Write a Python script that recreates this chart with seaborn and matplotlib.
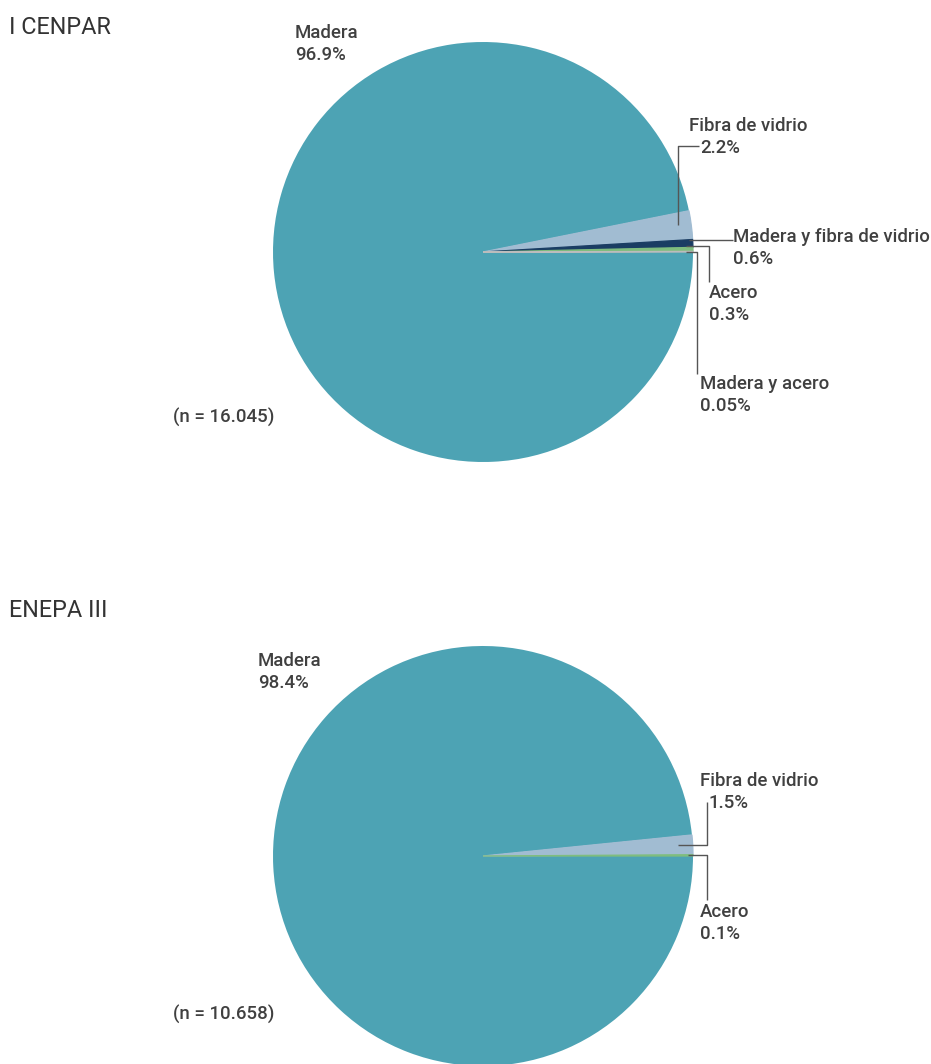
import numpy as np
import matplotlib
matplotlib.use("Agg")
import matplotlib.pyplot as plt
import seaborn as sns

# Material de las embarcaciones
cenpar_labels = ["Madera", "Fibra de vidrio", "Madera y fibra de vidrio", "Acero", "Madera y acero"]
cenpar_values = [96.9, 2.2, 0.6, 0.3, 0.05]
cenpar_pct = ["96.9%", "2.2%", "0.6%", "0.3%", "0.05%"]
cenpar_n = "(n = 16.045)"

enepa_labels = ["Madera", "Fibra de vidrio", "Acero"]
enepa_values = [98.4, 1.5, 0.1]
enepa_pct = ["98.4%", "1.5%", "0.1%"]
enepa_n = "(n = 10.658)"

colors = {
    "Madera": "#4da3b4",
    "Fibra de vidrio": "#a1bcd2",
    "Madera y fibra de vidrio": "#1a3d63",
    "Acero": "#7fbd7e",
    "Madera y acero": "#bcbcbc",
}

sns.set_theme(style="white")
plt.rcParams["font.family"] = ["Roboto", "DejaVu Sans"]

W, H = 931, 1064
fig = plt.figure(figsize=(W / 100, H / 100), dpi=100)
ax = fig.add_axes([0, 0, 1, 1])
ax.set_xlim(0, W)
ax.set_ylim(0, H)
ax.set_aspect("equal")
ax.axis("off")

TXT = "#404040"
FS = 13.4
WT = "medium"


def Y(py):
    # page coordinates measured from the top
    return H - py


def draw_pie(cx, cy, values, labels):
    wedges, _ = ax.pie(values, colors=[colors[l] for l in labels], center=(cx, Y(cy)),
                       radius=210, startangle=0, counterclock=False, normalize=True,
                       frame=True)
    # outline each wedge in its own colour so the thin slices stay visible
    for w, l in zip(wedges, labels):
        w.set_edgecolor(colors[l])
        w.set_linewidth(0.0 if l == "Madera" else 0.9)


def label(x, base, name, pct, x2=None):
    ax.text(x, Y(base), name, fontsize=FS, color=TXT, va="baseline", ha="left", weight=WT)
    ax.text(x if x2 is None else x2, Y(base + 22), pct, fontsize=FS, color=TXT,
            va="baseline", ha="left", weight=WT)


def leader(pts):
    xs = [p[0] for p in pts]
    ys = [Y(p[1]) for p in pts]
    ax.plot(xs, ys, color="#555555", lw=1.0, solid_capstyle="butt", zorder=5)


# I CENPAR
ax.text(9, Y(34), "I CENPAR", fontsize=16.8, color="#333333", va="baseline")
draw_pie(483, 252, cenpar_values, cenpar_labels)
label(295, 38, cenpar_labels[0], cenpar_pct[0])
label(689, 131, cenpar_labels[1], cenpar_pct[1], x2=700)
label(733, 242, cenpar_labels[2], cenpar_pct[2])
label(709, 298, cenpar_labels[3], cenpar_pct[3])
label(700, 389, cenpar_labels[4], cenpar_pct[4])
leader([(678, 225), (678, 146), (699, 146)])
leader([(689, 240), (733, 240)])
leader([(686, 246), (709, 246), (709, 282)])
leader([(686, 252), (697, 252), (697, 374)])
ax.text(173, Y(423), cenpar_n, fontsize=FS, color=TXT, va="baseline", weight=WT)

# ENEPA III
ax.text(9, Y(617), "ENEPA III", fontsize=16.8, color="#333333", va="baseline")
draw_pie(483, 856, enepa_values, enepa_labels)
label(258, 666, enepa_labels[0], enepa_pct[0])
label(700, 786, enepa_labels[1], enepa_pct[1], x2=708)
label(700, 917, enepa_labels[2], enepa_pct[2])
leader([(678, 845), (707, 845), (707, 802)])
leader([(688, 855), (707, 855), (707, 900)])
ax.text(173, Y(1020), enepa_n, fontsize=FS, color=TXT, va="baseline", weight=WT)

ax.set_xlim(0, W)
ax.set_ylim(0, H)
ax.axis("off")
fig.savefig("out.png", dpi=100)
